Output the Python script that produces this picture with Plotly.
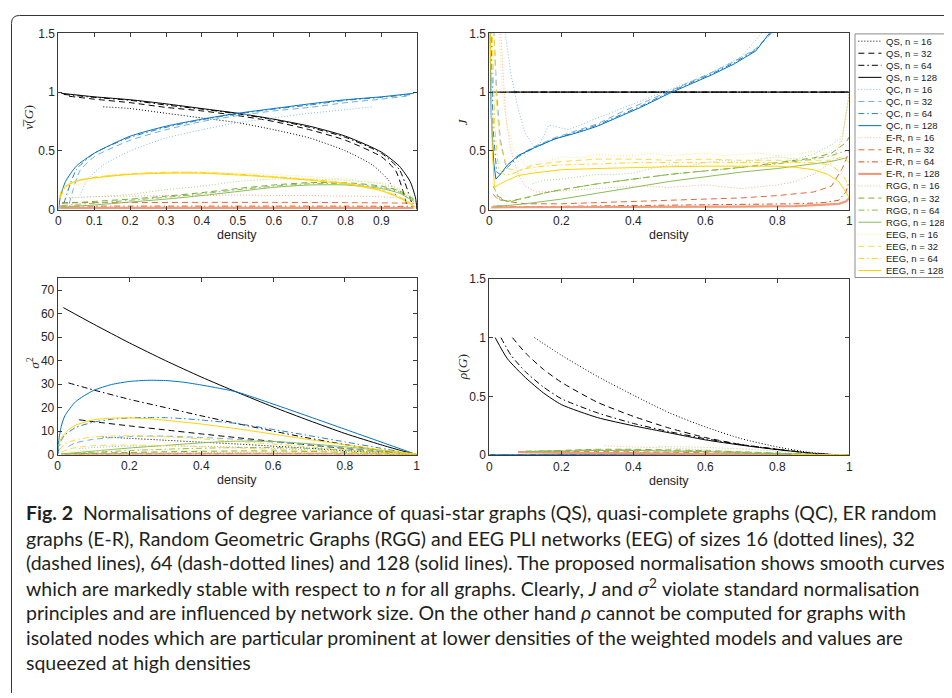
import plotly.graph_objects as go

# The page body has a default 8px margin, so the figure is placed at (8, 8) in the window.
WIN_W, WIN_H = 952, 698
OFF = 8
W, H = WIN_W - OFF, WIN_H - OFF

MODELS = ["QS", "QC", "E-R", "RGG", "EEG"]
SIZES = [16, 32, 64, 128]

# ---------------- Top-left panel: normalised variance nu-bar(G) ----------------
NU_QS_X = [
    [0.125, 0.2, 0.3, 0.4, 0.5, 0.6, 0.7, 0.8, 0.875, 0.92, 0.94],
    [0.03, 0.1, 0.2, 0.3, 0.4, 0.5, 0.6, 0.7, 0.8, 0.9, 0.94, 0.97],
    [0.015, 0.1, 0.2, 0.3, 0.4, 0.5, 0.6, 0.7, 0.8, 0.9, 0.95, 0.985],
    [0.008, 0.1, 0.2, 0.3, 0.4, 0.5, 0.6, 0.7, 0.8, 0.9, 0.95, 0.98, 0.995, 0.999],
]
NU_QS_Y = [
    [0.875, 0.86, 0.82, 0.78, 0.74, 0.68, 0.61, 0.50, 0.38, 0.25, 0.12],
    [0.965, 0.94, 0.91, 0.87, 0.84, 0.80, 0.75, 0.68, 0.59, 0.45, 0.33, 0.05],
    [0.98, 0.955, 0.93, 0.89, 0.855, 0.815, 0.765, 0.70, 0.615, 0.48, 0.34, 0.05],
    [0.99, 0.96, 0.935, 0.90, 0.86, 0.82, 0.77, 0.71, 0.625, 0.49, 0.37, 0.24, 0.10, 0.0],
]
NU_QC_X = [
    [0.06, 0.08, 0.125, 0.2, 0.3, 0.4, 0.5, 0.6, 0.7, 0.8, 0.875],
    [0.03, 0.06, 0.1, 0.2, 0.3, 0.4, 0.5, 0.6, 0.7, 0.8, 0.9, 0.97],
    [0.015, 0.05, 0.1, 0.2, 0.3, 0.4, 0.5, 0.6, 0.7, 0.8, 0.9, 0.985],
    [0.001, 0.005, 0.02, 0.05, 0.1, 0.2, 0.3, 0.4, 0.5, 0.6, 0.7, 0.8, 0.9, 0.99],
]
NU_QC_Y = [
    [0.12, 0.25, 0.38, 0.50, 0.61, 0.68, 0.74, 0.78, 0.82, 0.85, 0.875],
    [0.05, 0.33, 0.45, 0.59, 0.68, 0.75, 0.80, 0.84, 0.87, 0.91, 0.94, 0.965],
    [0.05, 0.34, 0.48, 0.615, 0.70, 0.765, 0.815, 0.855, 0.89, 0.93, 0.955, 0.98],
    [0.0, 0.10, 0.24, 0.37, 0.48, 0.625, 0.71, 0.77, 0.82, 0.86, 0.90, 0.935, 0.96, 0.99],
]
NU_ER_X = [
    [0.03, 0.1, 0.2, 0.3, 0.4, 0.5, 0.6, 0.7, 0.8, 0.9, 0.97],
    [0.01, 0.2, 0.4, 0.6, 0.8, 0.99],
    [0.005, 0.2, 0.4, 0.6, 0.8, 0.99],
    [0.005, 0.2, 0.4, 0.6, 0.8, 0.99],
]
NU_ER_Y = [
    [0.10, 0.11, 0.115, 0.12, 0.12, 0.125, 0.12, 0.12, 0.115, 0.11, 0.09],
    [0.06, 0.06, 0.062, 0.062, 0.06, 0.055],
    [0.03, 0.03, 0.03, 0.03, 0.03, 0.028],
    [0.015, 0.015, 0.016, 0.016, 0.015, 0.014],
]
NU_RGG_X = [
    [0.02, 0.1, 0.2, 0.3, 0.4, 0.5, 0.6, 0.7, 0.8, 0.9, 0.95, 0.99],
    [0.01, 0.05, 0.1, 0.2, 0.3, 0.4, 0.5, 0.6, 0.7, 0.8, 0.9, 0.95, 0.99],
    [0.01, 0.05, 0.1, 0.2, 0.3, 0.4, 0.5, 0.6, 0.7, 0.8, 0.9, 0.95, 0.99],
    [0.01, 0.05, 0.1, 0.2, 0.3, 0.4, 0.5, 0.6, 0.7, 0.8, 0.9, 0.95, 0.99],
]
NU_RGG_Y = [
    [0.10, 0.11, 0.13, 0.17, 0.20, 0.24, 0.26, 0.26, 0.25, 0.22, 0.17, 0.10],
    [0.055, 0.06, 0.07, 0.09, 0.115, 0.145, 0.18, 0.21, 0.23, 0.23, 0.20, 0.16, 0.09],
    [0.035, 0.045, 0.055, 0.08, 0.105, 0.135, 0.17, 0.20, 0.22, 0.22, 0.19, 0.15, 0.08],
    [0.02, 0.03, 0.04, 0.065, 0.09, 0.12, 0.155, 0.19, 0.21, 0.21, 0.18, 0.14, 0.07],
]
NU_EEG_X = [
    [0.02, 0.05, 0.1, 0.2, 0.3, 0.4, 0.5, 0.6, 0.7, 0.8, 0.9, 0.95, 0.99],
    [0.005, 0.02, 0.05, 0.1, 0.2, 0.3, 0.4, 0.5, 0.6, 0.7, 0.8, 0.9, 0.95, 0.99],
    [0.005, 0.02, 0.05, 0.1, 0.2, 0.3, 0.4, 0.5, 0.6, 0.7, 0.8, 0.9, 0.95, 0.99],
    [0.003, 0.01, 0.03, 0.06, 0.1, 0.2, 0.3, 0.4, 0.5, 0.6, 0.7, 0.8, 0.9, 0.95, 0.98, 0.995],
]
NU_EEG_Y = [
    [0.10, 0.20, 0.26, 0.30, 0.32, 0.32, 0.31, 0.30, 0.28, 0.26, 0.23, 0.18, 0.08],
    [0.10, 0.19, 0.24, 0.275, 0.305, 0.315, 0.315, 0.30, 0.28, 0.255, 0.225, 0.165, 0.11, 0.04],
    [0.10, 0.19, 0.245, 0.275, 0.305, 0.318, 0.317, 0.302, 0.282, 0.258, 0.225, 0.165, 0.105, 0.03],
    [0.10, 0.17, 0.22, 0.25, 0.27, 0.30, 0.31, 0.31, 0.295, 0.275, 0.25, 0.22, 0.16, 0.10, 0.05, 0.02],
]

# ---------------- Top-right panel: J ----------------
J_QS_X = [[0.125, 1.0], [0.06, 1.0], [0.03, 1.0], [0.0, 1.0]]
J_QS_Y = [[1.0, 1.0], [1.0, 1.0], [1.0, 1.0], [1.0, 1.0]]
J_QC_X = [
    [0.035, 0.06, 0.08, 0.1, 0.125, 0.14, 0.165, 0.19, 0.22, 0.3, 0.4, 0.5, 0.6, 0.7, 0.77],
    [0.01, 0.02, 0.03, 0.045, 0.06, 0.08, 0.12, 0.18, 0.25, 0.3, 0.36, 0.42, 0.5, 0.56, 0.62, 0.68, 0.74, 0.8],
    [0.003, 0.01, 0.02, 0.03, 0.05, 0.08, 0.12, 0.18, 0.25, 0.3, 0.36, 0.42, 0.5, 0.56, 0.62, 0.68, 0.74, 0.795],
    [0.0005, 0.005, 0.012, 0.018, 0.03, 0.05, 0.08, 0.12, 0.18, 0.25, 0.3, 0.36, 0.42, 0.5, 0.56, 0.62, 0.68, 0.74, 0.79],
]
J_QC_Y = [
    [1.7, 1.15, 0.85, 0.65, 0.53, 0.56, 0.72, 0.70, 0.68, 0.78, 0.90, 1.02, 1.14, 1.30, 1.55],
    [1.7, 1.0, 0.6, 0.38, 0.40, 0.46, 0.53, 0.61, 0.68, 0.73, 0.82, 0.90, 1.01, 1.09, 1.17, 1.26, 1.37, 1.55],
    [1.7, 0.7, 0.32, 0.30, 0.36, 0.45, 0.52, 0.60, 0.67, 0.72, 0.80, 0.88, 1.0, 1.08, 1.16, 1.25, 1.36, 1.55],
    [1.7, 0.8, 0.40, 0.26, 0.30, 0.38, 0.46, 0.52, 0.60, 0.66, 0.71, 0.79, 0.87, 0.99, 1.07, 1.15, 1.24, 1.35, 1.55],
]
J_ER_X = [
    [0.028, 0.045, 0.06, 0.08, 0.1, 0.13, 0.2, 0.3, 0.4, 0.5, 0.6, 0.7, 0.8, 0.85, 0.9, 0.95, 0.98, 1.0],
    [0.01, 0.02, 0.05, 0.1, 0.2, 0.3, 0.4, 0.5, 0.6, 0.7, 0.8, 0.9, 0.95, 0.98, 1.0],
    [0.02, 0.05, 0.1, 0.3, 0.5, 0.7, 0.85, 0.93, 0.97, 0.99, 1.0],
    [0.005, 0.1, 0.3, 0.5, 0.7, 0.85, 0.93, 0.97, 0.99, 1.0],
]
J_ER_Y = [
    [1.7, 0.8, 0.5, 0.3, 0.2, 0.15, 0.16, 0.18, 0.20, 0.19, 0.21, 0.18, 0.21, 0.24, 0.30, 0.40, 0.60, 1.0],
    [0.13, 0.10, 0.07, 0.05, 0.05, 0.06, 0.07, 0.08, 0.09, 0.10, 0.12, 0.15, 0.20, 0.35, 0.50],
    [0.03, 0.025, 0.025, 0.03, 0.035, 0.04, 0.05, 0.06, 0.08, 0.15, 0.25],
    [0.02, 0.02, 0.022, 0.024, 0.026, 0.03, 0.04, 0.05, 0.07, 0.10],
]
J_RGG_X = [
    [0.12, 0.15, 0.2, 0.25, 0.3, 0.35, 0.4, 0.45, 0.5, 0.55, 0.6, 0.65, 0.7, 0.75, 0.8, 0.85, 0.9, 0.95, 0.98, 1.0],
    [0.02, 0.05, 0.1, 0.15, 0.2, 0.3, 0.4, 0.5, 0.6, 0.7, 0.8, 0.9, 0.95, 0.99, 1.0],
    [0.01, 0.03, 0.06, 0.1, 0.15, 0.2, 0.3, 0.4, 0.5, 0.6, 0.7, 0.8, 0.9, 0.95, 0.99],
    [0.01, 0.05, 0.1, 0.2, 0.3, 0.4, 0.5, 0.6, 0.7, 0.8, 0.9, 0.95, 0.99],
]
J_RGG_Y = [
    [0.22, 0.25, 0.26, 0.28, 0.30, 0.30, 0.31, 0.35, 0.38, 0.37, 0.40, 0.42, 0.40, 0.43, 0.45, 0.43, 0.47, 0.55, 0.62, 1.0],
    [0.12, 0.07, 0.10, 0.14, 0.17, 0.22, 0.26, 0.30, 0.33, 0.36, 0.40, 0.44, 0.48, 0.57, 0.62],
    [0.20, 0.08, 0.07, 0.10, 0.14, 0.17, 0.22, 0.26, 0.30, 0.33, 0.36, 0.39, 0.43, 0.46, 0.50],
    [0.03, 0.035, 0.05, 0.09, 0.14, 0.19, 0.24, 0.28, 0.32, 0.35, 0.39, 0.41, 0.44],
]
J_EEG_X = [
    [0.025, 0.035, 0.05, 0.07, 0.1, 0.13, 0.17, 0.2, 0.25, 0.3, 0.35, 0.4, 0.45, 0.5, 0.55, 0.6,
     0.65, 0.7, 0.75, 0.8, 0.85, 0.9, 0.94, 0.97, 0.99, 1.0],
    [0.01, 0.02, 0.03, 0.05, 0.08, 0.12, 0.2, 0.3, 0.4, 0.5, 0.6, 0.7, 0.8, 0.9, 0.95, 0.98, 1.0],
    [0.006, 0.015, 0.025, 0.04, 0.06, 0.1, 0.15, 0.2, 0.3, 0.4, 0.5, 0.6, 0.7, 0.8, 0.9, 0.95, 0.98, 1.0],
    [0.001, 0.008, 0.014, 0.03, 0.05, 0.08, 0.12, 0.2, 0.3, 0.4, 0.5, 0.6, 0.7, 0.8, 0.85, 0.9, 0.94, 0.97, 0.99, 1.0],
]
J_EEG_Y = [
    [1.7, 1.0, 0.7, 0.5, 0.38, 0.33, 0.42, 0.45, 0.44, 0.47, 0.46, 0.46, 0.48, 0.46, 0.47, 0.48,
     0.46, 0.47, 0.48, 0.46, 0.47, 0.50, 0.48, 0.55, 0.75, 1.0],
    [1.7, 0.9, 0.55, 0.35, 0.33, 0.38, 0.41, 0.43, 0.43, 0.42, 0.43, 0.42, 0.42, 0.42, 0.42, 0.45, 0.40],
    [1.7, 0.7, 0.35, 0.30, 0.30, 0.35, 0.37, 0.38, 0.39, 0.40, 0.40, 0.40, 0.40, 0.40, 0.40, 0.38, 0.30, 0.20],
    [1.7, 0.5, 0.19, 0.22, 0.25, 0.29, 0.31, 0.34, 0.35, 0.36, 0.365, 0.37, 0.37, 0.37, 0.36, 0.34, 0.30, 0.24, 0.15, 0.10],
]

# ---------------- Bottom-left panel: sigma^2 ----------------
S_QS_X = [
    [0.125, 0.2, 0.3, 0.4, 0.5, 0.6, 0.7, 0.8, 0.875, 0.94],
    [0.06, 0.1, 0.2, 0.3, 0.4, 0.5, 0.6, 0.7, 0.8, 0.9, 0.97],
    [0.03, 0.1, 0.2, 0.3, 0.4, 0.5, 0.6, 0.7, 0.8, 0.9, 1.0],
    [0.016, 0.1, 0.2, 0.3, 0.4, 0.5, 0.6, 0.7, 0.8, 0.9, 0.95, 1.0],
]
S_QS_Y = [
    [7.5, 6.9, 6.1, 5.3, 4.5, 3.6, 2.7, 1.7, 1.0, 0.0],
    [14.8, 14.0, 12.2, 10.5, 8.8, 7.2, 5.6, 4.1, 2.6, 1.2, 0.0],
    [30.5, 27.5, 23.5, 20.0, 16.5, 13.2, 10.0, 7.0, 4.3, 1.8, 0.0],
    [62.5, 55.5, 47.5, 40.0, 33.0, 26.5, 20.3, 14.5, 9.0, 4.2, 2.0, 0.0],
]
S_QC_X = [
    [0.06, 0.1, 0.15, 0.2, 0.3, 0.4, 0.5, 0.6, 0.7, 0.8, 0.875],
    [0.03, 0.05, 0.1, 0.15, 0.2, 0.25, 0.3, 0.35, 0.4, 0.5, 0.6, 0.7, 0.8, 0.9, 0.97],
    [0.0, 0.01, 0.02, 0.05, 0.1, 0.15, 0.2, 0.25, 0.3, 0.35, 0.4, 0.5, 0.6, 0.7, 0.8, 0.9, 1.0],
    [0.0, 0.003, 0.01, 0.02, 0.05, 0.1, 0.15, 0.2, 0.25, 0.3, 0.35, 0.4, 0.45, 0.5, 0.6, 0.7, 0.8, 0.9, 1.0],
]
S_QC_Y = [
    [2.5, 3.0, 3.4, 3.6, 3.7, 3.5, 3.2, 2.6, 2.0, 1.3, 0.8],
    [3.5, 5.0, 6.5, 7.2, 7.7, 7.9, 7.85, 7.6, 7.3, 6.5, 5.3, 4.0, 2.7, 1.3, 0.0],
    [0.0, 6.0, 8.3, 11.5, 13.8, 15.0, 15.6, 15.8, 15.7, 15.3, 14.7, 13.2, 10.7, 8.1, 5.4, 2.7, 0.0],
    [0.0, 6.0, 12.0, 16.5, 22.5, 27.3, 29.8, 31.1, 31.6, 31.5, 30.8, 29.6, 28.2, 26.6, 21.5, 16.2, 10.8, 5.4, 0.0],
]
S_ER_X = [
    [0.05, 0.15, 0.3, 0.5, 0.7, 0.85, 0.95, 1.0],
    [0.05, 0.15, 0.3, 0.5, 0.7, 0.85, 0.95, 1.0],
    [0.02, 0.15, 0.3, 0.5, 0.7, 0.85, 0.95, 1.0],
    [0.02, 0.15, 0.3, 0.5, 0.7, 0.85, 0.95, 1.0],
]
S_ER_Y = [
    [0.3, 0.6, 0.8, 0.9, 0.8, 0.6, 0.3, 0.05],
    [0.2, 0.35, 0.45, 0.5, 0.45, 0.35, 0.2, 0.03],
    [0.1, 0.2, 0.25, 0.28, 0.25, 0.2, 0.1, 0.02],
    [0.05, 0.1, 0.12, 0.14, 0.12, 0.1, 0.05, 0.01],
]
S_RGG_X = [
    [0.01, 0.05, 0.1, 0.2, 0.3, 0.4, 0.5, 0.6, 0.7, 0.8, 0.9, 1.0],
    [0.01, 0.05, 0.1, 0.2, 0.3, 0.4, 0.5, 0.6, 0.7, 0.8, 0.9, 1.0],
    [0.01, 0.05, 0.1, 0.2, 0.3, 0.4, 0.5, 0.6, 0.7, 0.8, 0.9, 1.0],
    [0.01, 0.05, 0.1, 0.2, 0.3, 0.4, 0.5, 0.6, 0.7, 0.8, 0.9, 1.0],
]
S_RGG_Y = [
    [0.15, 0.3, 0.35, 0.5, 0.65, 0.75, 0.8, 0.8, 0.7, 0.55, 0.3, 0.05],
    [0.2, 0.4, 0.6, 0.9, 1.2, 1.4, 1.55, 1.55, 1.35, 1.0, 0.55, 0.05],
    [0.3, 0.6, 1.0, 1.7, 2.3, 2.7, 3.0, 3.0, 2.6, 1.9, 1.0, 0.1],
    [0.3, 0.8, 1.5, 2.8, 3.9, 5.0, 5.7, 5.6, 4.6, 3.3, 1.8, 0.1],
]
S_EEG_X = [
    [0.03, 0.06, 0.1, 0.2, 0.3, 0.4, 0.5, 0.6, 0.7, 0.8, 0.9, 1.0],
    [0.01, 0.03, 0.06, 0.1, 0.15, 0.2, 0.3, 0.4, 0.5, 0.6, 0.7, 0.8, 0.9, 1.0],
    [0.005, 0.02, 0.05, 0.1, 0.15, 0.2, 0.3, 0.4, 0.5, 0.6, 0.7, 0.8, 0.9, 1.0],
    [0.003, 0.01, 0.03, 0.05, 0.1, 0.15, 0.2, 0.25, 0.3, 0.4, 0.5, 0.6, 0.7, 0.8, 0.9, 1.0],
]
S_EEG_Y = [
    [1.0, 1.5, 1.8, 2.0, 1.95, 1.75, 1.45, 1.2, 0.9, 0.6, 0.3, 0.05],
    [1.0, 2.3, 3.2, 3.8, 4.0, 4.05, 3.85, 3.4, 2.8, 2.3, 1.7, 1.1, 0.6, 0.1],
    [2.0, 4.5, 6.3, 7.5, 7.9, 8.0, 7.6, 6.7, 5.6, 4.5, 3.3, 2.2, 1.1, 0.2],
    [4.0, 7.0, 10.5, 12.5, 14.8, 15.5, 15.6, 15.3, 14.6, 13.0, 11.0, 8.7, 6.4, 4.2, 2.0, 0.3],
]

# ---------------- Bottom-right panel: rho(G) ----------------
R_QS_X = [
    [0.125, 0.2, 0.3, 0.4, 0.5, 0.6, 0.7, 0.8, 0.875, 0.94],
    [0.064, 0.1, 0.15, 0.2, 0.3, 0.4, 0.5, 0.6, 0.7, 0.8, 0.9, 0.97],
    [0.032, 0.06, 0.1, 0.15, 0.2, 0.3, 0.4, 0.5, 0.6, 0.7, 0.8, 0.9, 0.97],
    [0.016, 0.05, 0.1, 0.15, 0.2, 0.3, 0.4, 0.5, 0.6, 0.7, 0.8, 0.9, 1.0],
]
R_QS_Y = [
    [1.0, 0.85, 0.67, 0.51, 0.36, 0.24, 0.14, 0.07, 0.03, 0.01],
    [1.0, 0.87, 0.73, 0.62, 0.45, 0.33, 0.23, 0.15, 0.09, 0.05, 0.015, 0.0],
    [1.0, 0.85, 0.71, 0.58, 0.48, 0.36, 0.27, 0.20, 0.14, 0.09, 0.05, 0.015, 0.0],
    [1.0, 0.82, 0.66, 0.53, 0.43, 0.32, 0.25, 0.19, 0.13, 0.085, 0.047, 0.015, 0.0],
]
R_QC_X = [[0.0, 1.0], [0.0, 1.0], [0.0, 1.0], [0.0, 1.0]]
R_QC_Y = [[0.003, 0.003], [0.003, 0.003], [0.003, 0.003], [0.003, 0.003]]
R_ER_X = [
    [0.32, 0.4, 0.5, 0.6, 0.7, 0.8],
    [0.15, 0.3, 0.5, 0.7, 0.85],
    [0.08, 0.2, 0.4, 0.6, 0.8, 0.9],
    [0.08, 0.2, 0.4, 0.6, 0.8, 0.9],
]
R_ER_Y = [
    [0.08, 0.07, 0.06, 0.045, 0.03, 0.02],
    [0.03, 0.03, 0.025, 0.015, 0.008],
    [0.03, 0.025, 0.02, 0.012, 0.006, 0.002],
    [0.025, 0.02, 0.015, 0.01, 0.005, 0.002],
]
R_RGG_X = [
    [0.47, 0.55, 0.65, 0.75, 0.85, 0.92],
    [0.1, 0.2, 0.3, 0.4, 0.5, 0.6, 0.7, 0.8, 0.9],
    [0.1, 0.2, 0.3, 0.4, 0.5, 0.6, 0.7, 0.8, 0.9],
    [0.1, 0.2, 0.3, 0.4, 0.5, 0.6, 0.7, 0.8, 0.9],
]
R_RGG_Y = [
    [0.075, 0.07, 0.06, 0.045, 0.025, 0.01],
    [0.03, 0.04, 0.05, 0.05, 0.045, 0.038, 0.028, 0.018, 0.008],
    [0.035, 0.04, 0.045, 0.045, 0.04, 0.033, 0.025, 0.015, 0.006],
    [0.03, 0.035, 0.04, 0.04, 0.035, 0.03, 0.02, 0.012, 0.005],
]
R_EEG_X = [[0.88, 1.0], [0.86, 1.0], [0.85, 1.0], [0.84, 1.0]]
R_EEG_Y = [[0.004, 0.002], [0.004, 0.002], [0.004, 0.002], [0.004, 0.002]]

# ---------------- styling ----------------
COLORS = {
    "QS": ["#000000", "#000000", "#000000", "#000000"],
    "QC": ["#86BDE6", "#6FAEDD", "#2A80C4", "#0072BD"],
    "E-R": ["#F2AE90", "#E2683A", "#D95319", "#EE9C7C"],
    "RGG": ["#AED48A", "#77AC30", "#8DBD52", "#8ABC58"],
    "EEG": ["#FFE47A", "#FFD84A", "#FFD524", "#FFD200"],
}
DASHES = ["1px,2px", "6px,4px", "6px,3px,1.5px,3px", "solid"]
FONT = "Liberation Sans"
AXC = "#3a3a3a"


def px_x(p):
    """window pixel -> paper fraction"""
    return (p - OFF) / W


def px_y(p):
    return 1 - (p - OFF) / H


PANELS = [
    ("x", "y", "spline", {"QS": (NU_QS_X, NU_QS_Y), "QC": (NU_QC_X, NU_QC_Y), "E-R": (NU_ER_X, NU_ER_Y),
                          "RGG": (NU_RGG_X, NU_RGG_Y), "EEG": (NU_EEG_X, NU_EEG_Y)}),
    ("x2", "y2", "linear", {"QS": (J_QS_X, J_QS_Y), "QC": (J_QC_X, J_QC_Y), "E-R": (J_ER_X, J_ER_Y),
                            "RGG": (J_RGG_X, J_RGG_Y), "EEG": (J_EEG_X, J_EEG_Y)}),
    ("x3", "y3", "spline", {"QS": (S_QS_X, S_QS_Y), "QC": (S_QC_X, S_QC_Y), "E-R": (S_ER_X, S_ER_Y),
                            "RGG": (S_RGG_X, S_RGG_Y), "EEG": (S_EEG_X, S_EEG_Y)}),
    ("x4", "y4", "spline", {"QS": (R_QS_X, R_QS_Y), "QC": (R_QC_X, R_QC_Y), "E-R": (R_ER_X, R_ER_Y),
                            "RGG": (R_RGG_X, R_RGG_Y), "EEG": (R_EEG_X, R_EEG_Y)}),
]

fig = go.Figure()
for xa, ya, shape, data in PANELS:
    for m in MODELS:
        xs, ys = data[m]
        for k, n in enumerate(SIZES):
            wid = 2.2 if (m == "E-R" and n == 128) else 1.0
            line = dict(color=COLORS[m][k], width=wid, dash=DASHES[k], shape=shape)
            if shape == "spline":
                line["smoothing"] = 0.6
            fig.add_trace(go.Scatter(x=xs[k], y=ys[k], mode="lines", line=line,
                                     xaxis=xa, yaxis=ya, showlegend=False,
                                     hoverinfo="skip", name=f"{m}, n = {n}"))


def axis(dom, rng, tickvals, anchor):
    return dict(domain=dom, range=rng, tickvals=tickvals, ticks="inside", ticklen=4,
                tickwidth=1, tickcolor=AXC, showline=True, linecolor=AXC, linewidth=1,
                mirror="ticks", showgrid=False, zeroline=False, anchor=anchor,
                tickfont=dict(family=FONT, size=12, color="#262626"), fixedrange=True)


TL_X = [0, 0.1, 0.2, 0.3, 0.4, 0.5, 0.6, 0.7, 0.8, 0.9]
X01 = [0, 0.2, 0.4, 0.6, 0.8, 1]
Y15 = [0, 0.5, 1, 1.5]
Y75 = [0, 10, 20, 30, 40, 50, 60, 70]

fig.update_layout(
    width=W, height=H, margin=dict(l=0, r=0, t=0, b=0),
    paper_bgcolor="white", plot_bgcolor="white", showlegend=False,
    xaxis=axis([px_x(55.7), px_x(417)], [0, 0.999], TL_X, "y"),
    yaxis=axis([px_y(206.7), px_y(26.7)], [0, 1.5], Y15, "x"),
    xaxis2=axis([px_x(490), px_x(852.7)], [0, 1], X01, "y2"),
    yaxis2=axis([px_y(206.7), px_y(26.7)], [0, 1.5], Y15, "x2"),
    xaxis3=axis([px_x(55), px_x(416.7)], [0, 1], X01, "y3"),
    yaxis3=axis([px_y(456.7), px_y(276.7)], [0, 75], Y75, "x3"),
    xaxis4=axis([px_x(490), px_x(852.7)], [0, 1], X01, "y4"),
    yaxis4=axis([px_y(457.3), px_y(277.3)], [0, 1.5], Y15, "x4"),
)

ann = []
shapes = []


def label(text, x, y, size=12, angle=0, family=FONT, anchor="center", color="#262626"):
    ann.append(dict(text=text, x=px_x(x), y=px_y(y), xref="paper", yref="paper",
                    showarrow=False, textangle=angle, xanchor=anchor, yanchor="middle",
                    font=dict(family=family, size=size, color=color)))


# axis titles
for cx, cy in [(236, 233), (671, 233), (236, 483), (671, 484)]:
    label("density", cx, cy, size=12.5)
label("<i>ν\u0305</i>(<i>G</i>)", 26, 112, size=13.5, angle=-90, family="Liberation Serif")
label("<i>J</i>", 463, 117, size=13.5, angle=-90, family="Liberation Serif")
label("<i>σ</i><sup>2</sup>", 31, 363, size=13.5, angle=-90, family="Liberation Serif")
label("<i>ρ</i>(<i>G</i>)", 463, 368, size=13.5, angle=-90, family="Liberation Serif")

# manual legend
LEG_L, LEG_T, LEG_R, LEG_B = 858.3, 27.3, 951.3, 276
shapes.append(dict(type="rect", xref="paper", yref="paper", x0=px_x(LEG_L), x1=px_x(LEG_R),
                   y0=px_y(LEG_B), y1=px_y(LEG_T), line=dict(color="#8a8a8a", width=1),
                   fillcolor="white", layer="above"))
i = 0
for m in MODELS:
    for k, n in enumerate(SIZES):
        cy = 34.7 + 12.32 * i
        wid = 2.2 if (m == "E-R" and n == 128) else 1.0
        shapes.append(dict(type="line", xref="paper", yref="paper",
                           x0=px_x(861.7), x1=px_x(885), y0=px_y(cy), y1=px_y(cy),
                           line=dict(color=COLORS[m][k], width=wid, dash=DASHES[k]), layer="above"))
        label(f"{m}, n = {n}", 887.5, cy, size=9.5, anchor="left", color="#1a1a1a")
        i += 1

# outer frame with rounded top-left corner
fx0, fy0, r = 8.5, 8.5, 8
path = (f"M {px_x(fx0)},{px_y(WIN_H + 2)} L {px_x(fx0)},{px_y(fy0 + r)} "
        f"Q {px_x(fx0)},{px_y(fy0)} {px_x(fx0 + r)},{px_y(fy0)} L {px_x(WIN_W + 2)},{px_y(fy0)}")
shapes.append(dict(type="path", path=path, xref="paper", yref="paper",
                   line=dict(color="#333333", width=1)))

# caption
CAPTION = [
    "<b>Fig. 2</b>&nbsp; Normalisations of degree variance of quasi-star graphs (QS), quasi-complete graphs (QC), ER random",
    "graphs (E-R), Random Geometric Graphs (RGG) and EEG PLI networks (EEG) of sizes 16 (dotted lines), 32",
    "(dashed lines), 64 (dash-dotted lines) and 128 (solid lines). The proposed normalisation shows smooth curves",
    "which are markedly stable with respect to <i>n</i> for all graphs. Clearly, <i>J</i> and <i>σ</i><sup>2</sup> violate standard normalisation",
    "principles and are influenced by network size. On the other hand <i>ρ</i> cannot be computed for graphs with",
    "isolated nodes which are particular prominent at lower densities of the weighted models and values are",
    "squeezed at high densities",
]
CAP_Y = [516, 542, 567, 592, 618, 643, 669]
for t, yy in zip(CAPTION, CAP_Y):
    label(t, 21, yy, size=19.5, anchor="left", family="Lato", color="#231f20")

fig.update_layout(annotations=ann, shapes=shapes)
fig.write_html("out.html")
